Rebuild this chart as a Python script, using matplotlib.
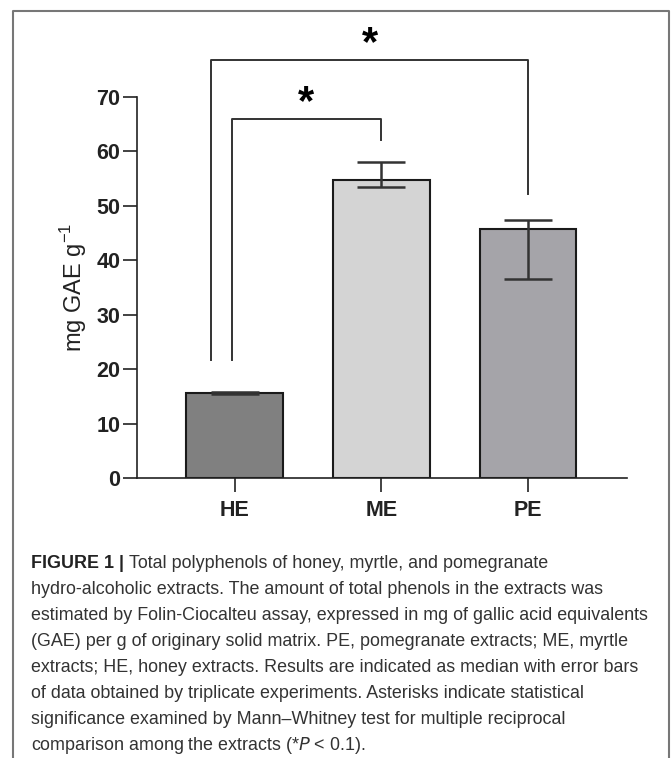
import matplotlib
matplotlib.use('Agg')
import matplotlib.pyplot as plt
from matplotlib.lines import Line2D

# data
groups = ['HE', 'ME', 'PE']
medians = [15.6, 54.8, 45.8]
err_low = [15.5, 53.4, 36.6]
err_high = [15.8, 58.0, 47.4]
bar_colors = ['#808080', '#d4d4d4', '#a5a4a9']

# significance brackets: (x left, x right), top, (left leg bottom, right leg bottom)
brk_x = [(-0.02, 1.0), (-0.16, 2.0)]
brk_top = [66.0, 76.8]
brk_bottom = [(21.7, 62.1), (21.7, 52.2)]
star_y = [68.8, 79.8]

caption_bold = 'FIGURE 1 | '
caption_lines = [
    'Total polyphenols of honey, myrtle, and pomegranate',
    'hydro-alcoholic extracts. The amount of total phenols in the extracts was',
    'estimated by Folin-Ciocalteu assay, expressed in mg of gallic acid equivalents',
    '(GAE) per g of originary solid matrix. PE, pomegranate extracts; ME, myrtle',
    'extracts; HE, honey extracts. Results are indicated as median with error bars',
    'of data obtained by triplicate experiments. Asterisks indicate statistical',
    'significance examined by Mann\u2013Whitney test for multiple reciprocal',
    'comparison among the extracts (*$P$ < 0.1).',
]

W, H = 672, 758
fig = plt.figure(figsize=(W / 100, H / 100), dpi=100)
ax = fig.add_axes([137 / W, 1 - 478 / H, (627 - 137) / W, (478 - 97) / H])

x = list(range(len(groups)))
yerr = [[m - lo for m, lo in zip(medians, err_low)],
        [hi - m for m, hi in zip(medians, err_high)]]
ax.bar(x, medians, width=0.66, color=bar_colors, edgecolor='#1a1a1a', linewidth=1.5, zorder=2)
ax.errorbar(x, medians, yerr=yerr, fmt='none', ecolor='#333333', elinewidth=1.8,
            capsize=17, capthick=1.8, zorder=3)

for (xl, xr), top, (bl, br), sy in zip(brk_x, brk_top, brk_bottom, star_y):
    ax.plot([xl, xl, xr, xr], [bl, top, top, br], color='#333333', lw=1.4,
            clip_on=False, zorder=3)
    ax.text((xl + xr) / 2, sy, '*', ha='center', va='center', fontsize=30,
            fontweight='bold', family='Liberation Sans', clip_on=False)

ax.set_xlim(-0.665, 2.675)
ax.set_ylim(0, 70)
ax.set_yticks(range(0, 71, 10))
ax.set_xticks(x)
ax.set_xticklabels(groups)
for s in ['top', 'right']:
    ax.spines[s].set_visible(False)
for s in ['left', 'bottom']:
    ax.spines[s].set_linewidth(1.2)
    ax.spines[s].set_color('#222222')
ax.tick_params(axis='y', length=10, width=1.2, color='#222222', pad=2)
ax.tick_params(axis='x', length=10, width=1.2, color='#222222', pad=6)
for lab in ax.get_xticklabels() + ax.get_yticklabels():
    lab.set_family('Liberation Sans')
    lab.set_fontweight('bold')
    lab.set_fontsize(15.5)
    lab.set_color('#222222')
ax.set_ylabel('mg GAE g$^{\\mathregular{-1}}$', fontsize=17, family='Liberation Sans',
              color='#222222', labelpad=5)

# frame around the panel (open at the bottom)
fig.add_artist(Line2D([13 / W, 13 / W, 669 / W, 669 / W],
                      [0, 1 - 11 / H, 1 - 11 / H, 0], color='#777777', lw=1.5))

# caption, font size fitted so the longest line is as wide as in the reference
cap_font = 'Liberation Sans'
r = fig.canvas.get_renderer()
probe = fig.text(0, 0, caption_lines[2], fontsize=13.5, family=cap_font)
fs = 13.5 * 616 / probe.get_window_extent(r).width
probe.remove()

x0 = 31 / W
t = fig.text(x0, 1 - 563 / H, caption_bold, fontsize=fs, fontweight='bold',
             family=cap_font, va='center', color='#222222')
bb = t.get_window_extent(r)
for i, line in enumerate(caption_lines):
    xx = bb.x1 / W if i == 0 else x0
    fig.text(xx, 1 - (563 + 26.1 * i) / H, line, fontsize=fs, family=cap_font,
             va='center', color='#333333')

fig.savefig('out.png', dpi=100)
